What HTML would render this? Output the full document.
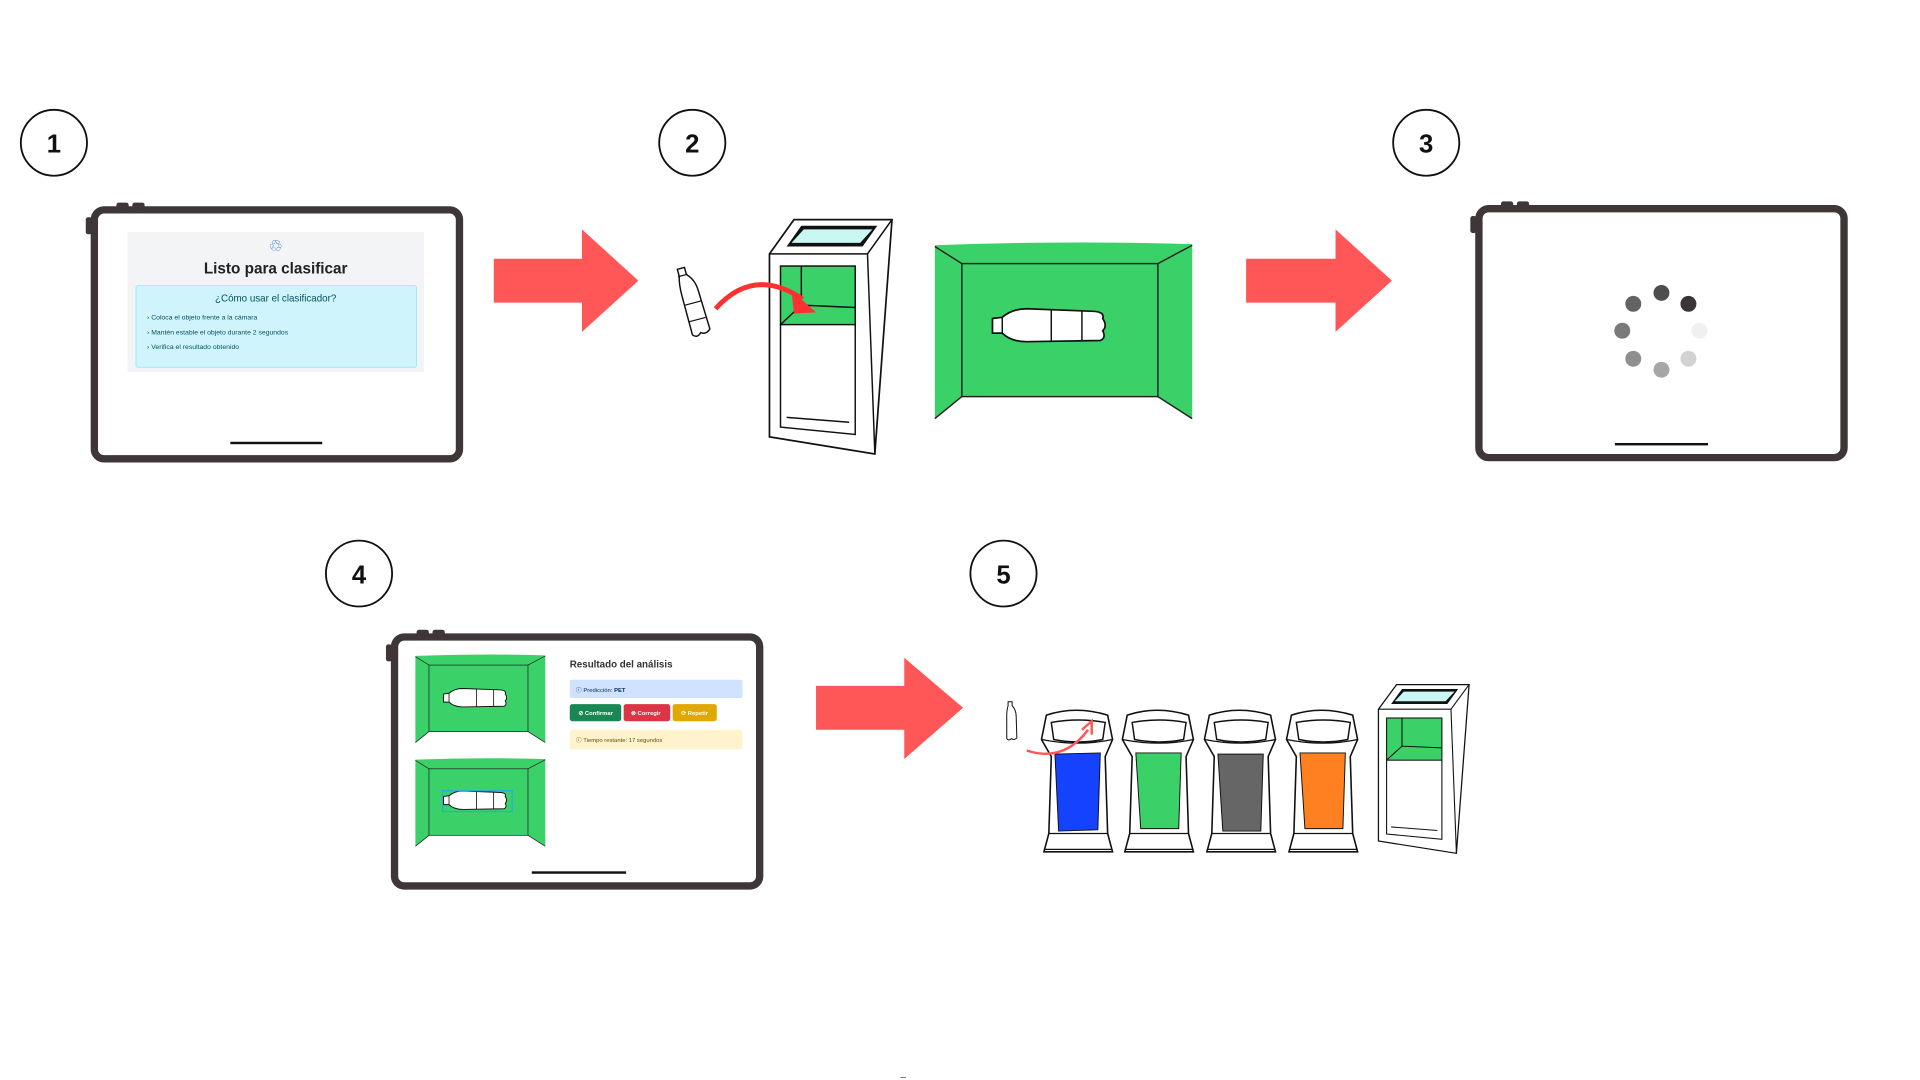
<!DOCTYPE html>
<html><head><meta charset="utf-8"><style>
html,body{margin:0;padding:0;background:#fff;width:1920px;height:1080px;overflow:hidden}
svg{display:block}
text{font-family:"Liberation Sans",sans-serif}
</style></head><body>
<svg width="1920" height="1080" viewBox="0 0 1567 885" preserveAspectRatio="none" xmlns="http://www.w3.org/2000/svg">
<defs>
<g id="gbox">
  <path d="M0,3 Q105,-1 210,2 L182,18 L22,18 Z" fill="#3ad268"/>
  <path d="M0,3 L22,18 L22,127 L0,145 Z" fill="#3ad268"/>
  <path d="M210,2 L182,18 L182,127 L210,145 Z" fill="#3ad268"/>
  <rect x="22" y="18" width="160" height="109" fill="#3ad268" stroke="#222" stroke-width="1.2"/>
  <path d="M0,4 L22,18 M210,3 L182,18 M0,145 L22,127 M210,145 L182,127" stroke="#222" stroke-width="1.2" fill="none"/>
</g>
<g id="hbottle">
  <path d="M0,-6 L8,-7 Q16,-14 28,-14 L80,-12 Q92,-12 90,-6 Q94,0 90,4 Q93,10 88,12 L28,13 Q15,13 8,6 L0,6 Z" fill="#fff" stroke="#111" stroke-width="1.4"/>
  <path d="M8,-7 L8,6 M48,-13 L48,13 M73,-12 L73,12" stroke="#111" stroke-width="1.2"/>
</g>
<g id="tablet">
  <rect x="0" y="0" width="298" height="204" rx="8" fill="#fff" stroke="#3e3637" stroke-width="6"/>
  <rect x="18" y="-6" width="10" height="5" rx="2" fill="#3e3637"/>
  <rect x="31" y="-6" width="10" height="5" rx="2" fill="#3e3637"/>
  <rect x="-7" y="6" width="5" height="14" rx="2" fill="#3e3637"/>
</g>
<g id="bin">
  <path d="M4,8 Q28,0 54,8 L58,28 L52,42 L54,105 L58,120 L2,120 L6,105 L8,42 L0,28 Z" fill="#fff" stroke="#111" stroke-width="1.3"/>
  <path d="M8,14 Q30,10 52,14 L50,28 Q30,32 10,28 Z" fill="#fff" stroke="#111" stroke-width="1.2"/>
  <path d="M0,28 Q30,34 58,28 M6,105 L54,105 M2,118 L58,118" stroke="#111" stroke-width="1" fill="none"/>
</g>
<g id="kiosk">
  <path d="M0,28 L20,0 L100,0 L86,192 L0,178 Z" fill="#fff" stroke="#111" stroke-width="1.4"/>
  <path d="M0,28 L80,28 L100,0 M80,28 L86,192" stroke="#111" stroke-width="1.2" fill="none"/>
  <path d="M14,22 L26,5 L88,5 L76,22 Z" fill="#111"/>
  <path d="M18,19 L28,8 L84,8 L74,19 Z" fill="#c9f7f4"/>
  <rect x="9" y="38" width="61" height="48" fill="#3ad268" stroke="#111" stroke-width="1.2"/>
  <path d="M9,86 L9,170 L70,176 L70,86 M9,86 L26,70 L70,72 M26,38 L26,70 M14,162 L65,166" stroke="#111" stroke-width="1.2" fill="none"/>
</g>
</defs>

<g fill="#fff" stroke="#111" stroke-width="1.5">
<circle cx="44" cy="117" r="27"/><circle cx="565" cy="117" r="27"/><circle cx="1164" cy="117" r="27"/>
<circle cx="293" cy="470" r="27"/><circle cx="819" cy="470" r="27"/>
</g>
<g font-size="21" font-weight="bold" fill="#111" text-anchor="middle">
<text x="44" y="125">1</text><text x="565" y="125">2</text><text x="1164" y="125">3</text>
<text x="293" y="478">4</text><text x="819" y="478">5</text>
</g>

<g fill="#ff5757">
<path d="M403,212 L475,212 L475,188 L521,230 L475,272 L475,248 L403,248 Z"/>
<path d="M1017,212 L1090,212 L1090,188 L1136,230 L1090,272 L1090,248 L1017,248 Z"/>
<path d="M666,562 L738,562 L738,539 L786,580 L738,622 L738,598 L666,598 Z"/>
</g>

<use href="#tablet" x="77" y="172"/>
<rect x="104" y="190" width="242" height="115" fill="#f3f4f5"/>
<text x="225" y="206" font-size="13" fill="#3a7bd5" text-anchor="middle">♲</text>
<text x="225" y="224" font-size="12.5" font-weight="bold" fill="#222" text-anchor="middle">Listo para clasificar</text>
<rect x="111" y="234" width="229" height="67" rx="2" fill="#cff4fc" stroke="#9eeaf9" stroke-width="0.8"/>
<text x="225" y="247" font-size="8" fill="#055160" text-anchor="middle">¿Cómo usar el clasificador?</text>
<g font-size="5.6" fill="#055160">
<text x="120" y="262">›  Coloca el objeto frente a la cámara</text>
<text x="120" y="274">›  Mantén estable el objeto durante 2 segundos</text>
<text x="120" y="286">›  Verifica el resultado obtenido</text>
</g>
<rect x="188" y="362" width="75" height="2" fill="#111"/>

<g transform="translate(548,222) rotate(-15)">
  <path d="M5,0 L11,0 L11,6 Q17,12 17,22 L18,54 Q14,58 10,55 Q6,59 3,55 L3,22 Q3,12 5,6 Z" fill="#fff" stroke="#111" stroke-width="1.2"/>
  <path d="M4,6 L12,6 M3,30 L17,30 M3,44 L17,44" stroke="#111" stroke-width="1"/>
</g>
<use href="#kiosk" x="628" y="180"/>
<path d="M584,253 Q615,218 655,245" stroke="#ff3030" stroke-width="4" fill="none"/>
<path d="M646,238 L666,256 L648,257 Z" fill="#ff3030"/>
<use href="#gbox" x="763" y="198"/>
<use href="#hbottle" x="810" y="267"/>

<use href="#tablet" x="1207" y="171"/>
<g>
<circle cx="1356" cy="240" r="6.5" fill="#4d4d4d"/>
<circle cx="1378" cy="249" r="6.5" fill="#3a3536"/>
<circle cx="1387" cy="271" r="6.5" fill="#f0f0f0"/>
<circle cx="1378" cy="294" r="6.5" fill="#d2d2d2"/>
<circle cx="1356" cy="303" r="6.5" fill="#a6a6a6"/>
<circle cx="1333" cy="294" r="6.5" fill="#8f8f8f"/>
<circle cx="1324" cy="271" r="6.5" fill="#7a7a7a"/>
<circle cx="1333" cy="249" r="6.5" fill="#636363"/>
</g>
<rect x="1318" y="363" width="76" height="2" fill="#111"/>

<use href="#tablet" x="322" y="522"/>
<g transform="translate(339,536) scale(0.505,0.5)"><use href="#gbox"/></g>
<g transform="translate(339,621) scale(0.505,0.5)"><use href="#gbox"/></g>
<g transform="translate(362,572) scale(0.56)"><use href="#hbottle"/></g>
<g transform="translate(362,656) scale(0.56)"><use href="#hbottle"/></g>
<rect x="361" y="648" width="57" height="17" fill="none" stroke="#2aa8e0" stroke-width="1"/>
<text x="465" y="547" font-size="8" font-weight="bold" fill="#333">Resultado del análisis</text>
<rect x="465" y="557" width="141" height="15" rx="1.5" fill="#cfe2ff"/>
<text x="470" y="567" font-size="4.8" fill="#052c65">ⓘ Predicción:  <tspan font-weight="bold">PET</tspan></text>
<rect x="465" y="577" width="42" height="14" rx="2" fill="#198754"/>
<rect x="509" y="577" width="38" height="14" rx="2" fill="#dc3545"/>
<rect x="549" y="577" width="36" height="14" rx="2" fill="#e0a800"/>
<g font-size="4.8" fill="#fff" font-weight="bold">
<text x="472" y="586">⊘ Confirmar</text><text x="515" y="586">⊗ Corregir</text><text x="556" y="586">⟳ Repetir</text>
</g>
<rect x="465" y="598" width="141" height="16" rx="1.5" fill="#fff3cd"/>
<text x="470" y="608" font-size="4.8" fill="#664d03">ⓘ  Tiempo restante: 17 segundos</text>
<rect x="434" y="714" width="77" height="2" fill="#111"/>

<use href="#bin" x="850" y="578"/>
<use href="#bin" x="916" y="578"/>
<use href="#bin" x="983" y="578"/>
<use href="#bin" x="1050" y="578"/>
<path d="M861,618 L898,617 L896,680 L864,681 Z" fill="#1442ff" stroke="#111" stroke-width="0.8"/>
<path d="M927,617 L964,617 L962,679 L931,679 Z" fill="#3ad268" stroke="#111" stroke-width="0.8"/>
<path d="M994,618 L1031,618 L1029,681 L998,681 Z" fill="#666" stroke="#111" stroke-width="0.8"/>
<path d="M1061,617 L1098,617 L1096,679 L1065,679 Z" fill="#ff8020" stroke="#111" stroke-width="0.8"/>
<g transform="translate(820,575) scale(0.55)">
  <path d="M5,0 L11,0 L11,6 Q17,12 17,22 L18,54 Q14,58 10,55 Q6,59 3,55 L3,22 Q3,12 5,6 Z" fill="#fff" stroke="#111" stroke-width="1.5"/>
</g>
<path d="M838,615 Q868,625 888,598" stroke="#ff5757" stroke-width="2" fill="none"/>
<path d="M883,598 L891,591 L891,602" stroke="#ff5757" stroke-width="2" fill="none"/>
<g transform="translate(1125,561) scale(0.74,0.72)"><use href="#kiosk"/></g>

<text x="735" y="885" font-size="8" fill="#333">–</text>
</svg>
</body></html>
